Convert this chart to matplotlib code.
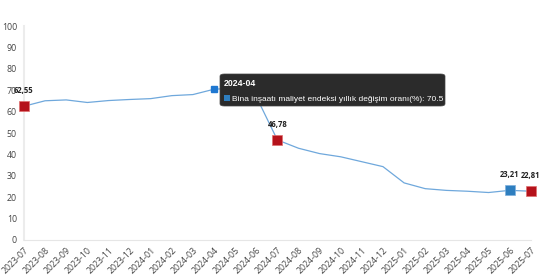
import matplotlib.pyplot as plt
from matplotlib.patches import FancyBboxPatch

plt.rcParams['font.family'] = ['Open Sans', 'DejaVu Sans']

months = ['2023-07', '2023-08', '2023-09', '2023-10', '2023-11', '2023-12',
          '2024-01', '2024-02', '2024-03', '2024-04', '2024-05', '2024-06',
          '2024-07', '2024-08', '2024-09', '2024-10', '2024-11', '2024-12',
          '2025-01', '2025-02', '2025-03', '2025-04', '2025-05', '2025-06',
          '2025-07']
values = [62.55, 65.1, 65.5, 64.3, 65.2, 65.7, 66.1, 67.5, 68.0, 70.5,
          71.0, 67.0, 46.78, 42.9, 40.4, 38.9, 36.6, 34.3, 26.7, 24.0,
          23.2, 22.8, 22.2, 23.21, 22.81]
labeled = {'2023-07': '62,55', '2024-07': '46,78', '2025-06': '23,21', '2025-07': '22,81'}
red_points = ['2023-07', '2024-07', '2025-07']
blue_points = ['2025-06']
hover = '2024-04'
series_name = 'Bina inşaatı maliyet endeksi yıllık değişim oranı(%)'

fig = plt.figure(figsize=(5.4, 2.78), dpi=100)
ax = fig.add_axes([0.0444, 0.1367, 0.9386, 0.7693])

x = list(range(len(months)))
ax.plot(x, values, color='#6fa8dc', lw=0.9, zorder=2)

for m in red_points:
    k = months.index(m)
    ax.plot(k, values[k], 's', ms=7, color='#b5121b', mec='#e07070', mew=0.5,
            zorder=3, clip_on=False)
for m in blue_points:
    k = months.index(m)
    ax.plot(k, values[k], 's', ms=7, color='#2e7ebf', mec='#7fb0dd', mew=0.5,
            zorder=3, clip_on=False)
h = months.index(hover)
ax.plot(h, values[h], 's', ms=4, color='#1f78d1', zorder=3)

for m, lab in labeled.items():
    k = months.index(m)
    ax.annotate(lab, (k, values[k]), xytext=(0, 8), textcoords='offset points',
                ha='center', va='bottom', fontsize=5.5, fontweight='bold', color='#222222',
                zorder=5, annotation_clip=False)

ax.set_xlim(0, len(months) - 1)
ax.set_ylim(0, 100)
ax.set_yticks(range(0, 101, 10))
ax.set_xticks(x)
ax.set_xticklabels(months, rotation=45, ha='right', rotation_mode='anchor')
ax.tick_params(axis='both', length=0, labelsize=6.3, colors='#444444', pad=5)
ax.tick_params(axis='x', pad=4)
for s in ['top', 'right']:
    ax.spines[s].set_visible(False)
ax.spines['left'].set_color('#ececec')
ax.spines['bottom'].set_color('#e6e6e6')
ax.spines['left'].set_linewidth(1.5)

# tooltip
box = FancyBboxPatch((220 / 540, 1 - 106 / 278), 225 / 540, 32 / 278,
                     boxstyle='round,pad=0,rounding_size=0.008',
                     transform=fig.transFigure, facecolor='#2b2b2b',
                     edgecolor='#444444', lw=0.5, zorder=10)
fig.patches.append(box)
fig.text(224 / 540, 1 - 86 / 278, hover, color='white', fontsize=6.3,
         fontweight='bold', family=['Liberation Sans', 'DejaVu Sans'], zorder=11)
fig.patches.append(plt.Rectangle((224 / 540, 1 - 101 / 278), 6 / 540, 6 / 278,
                                 transform=fig.transFigure, facecolor='#2e7ebf', zorder=11))
fig.text(232 / 540, 1 - 101 / 278, f'{series_name}: {values[h]}', color='white',
         fontsize=6.0, family=['Liberation Sans', 'DejaVu Sans'], zorder=11)

fig.savefig('out.png', dpi=100)
